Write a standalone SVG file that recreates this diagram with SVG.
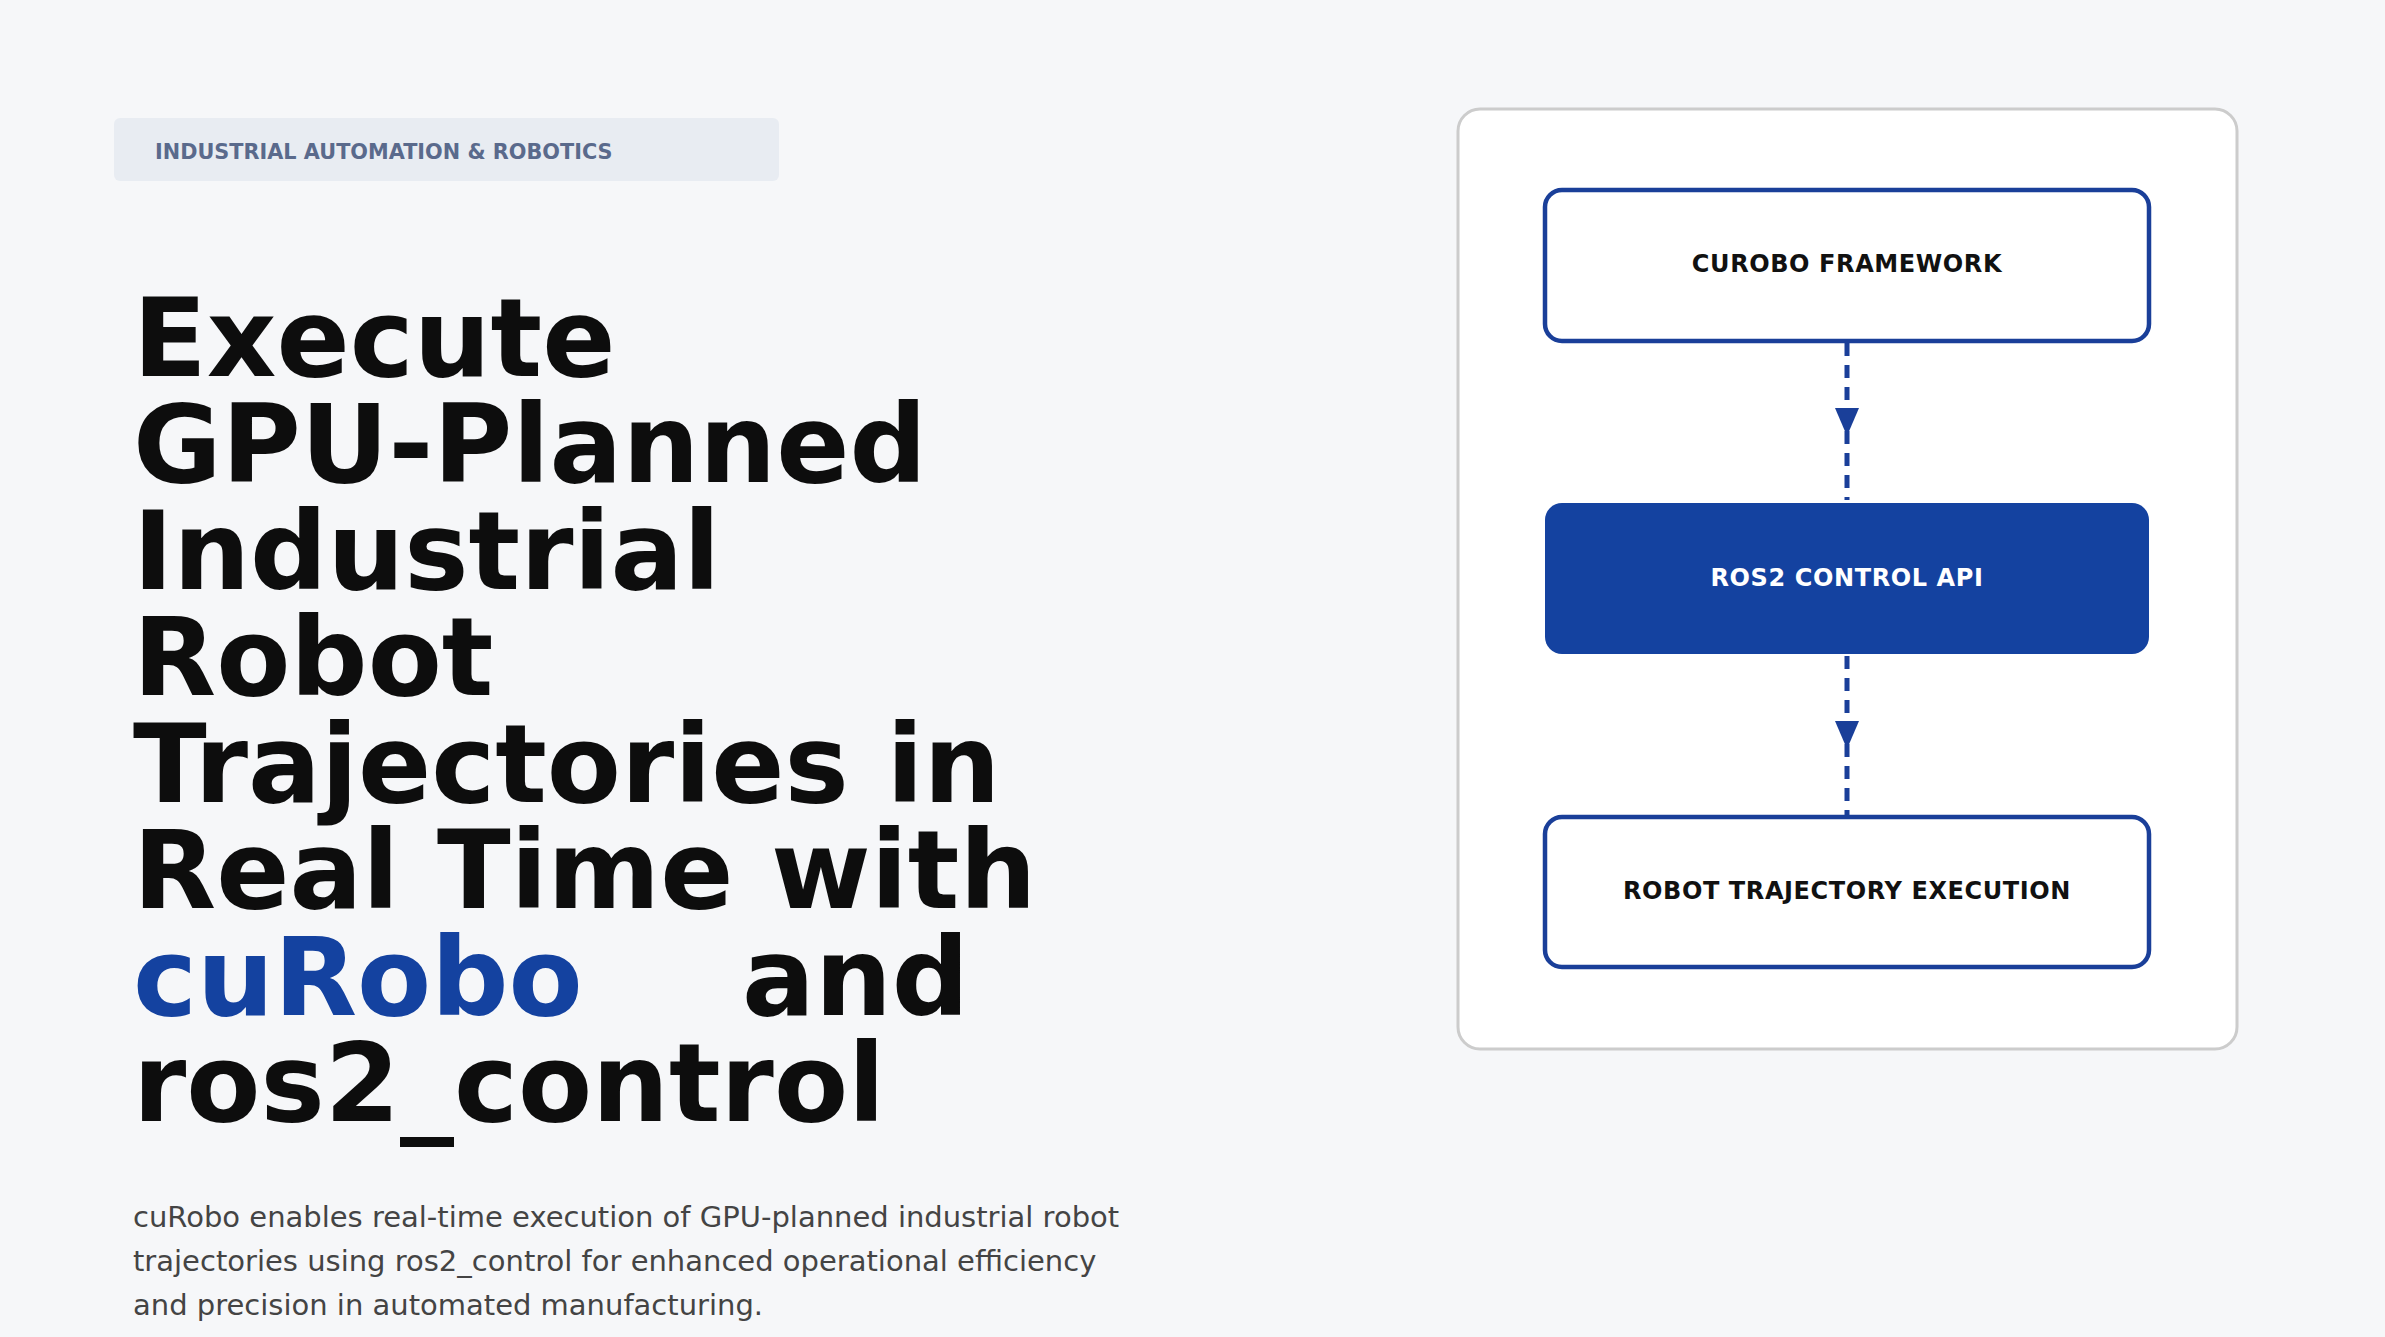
<svg xmlns="http://www.w3.org/2000/svg" width="2385" height="1337" viewBox="0 0 2385 1337">
<style>
.t{font-family:"DejaVu Sans",sans-serif;font-weight:bold;font-size:108px;fill:#0d0d0d}
.hl{fill:#1442a0}
.p{font-family:"DejaVu Sans",sans-serif;font-size:29px;fill:#444}
.lbl{font-family:"DejaVu Sans",sans-serif;font-weight:bold;font-size:24px;letter-spacing:0.6px;text-anchor:middle;dominant-baseline:central}
.box{fill:#fff;stroke:#1a3f99;stroke-width:4.5}
.conn{stroke:#1a3f99;stroke-width:5;stroke-dasharray:13 9;fill:none}
</style>
<rect width="2385" height="1337" fill="#f6f7f9"/>
<g id="tag"><rect x="114" y="118" width="665" height="63" rx="6" fill="#e8ecf2"/>
<text x="155" y="159" font-family="DejaVu Sans,sans-serif" font-weight="bold" font-size="20.8" fill="#5a6a8c">INDUSTRIAL AUTOMATION &amp; ROBOTICS</text></g>
<g id="title">
<text class="t" x="133" y="376">Execute</text>
<text class="t" x="133" y="482">GPU-Planned</text>
<text class="t" x="133" y="589">Industrial</text>
<text class="t" x="133" y="695">Robot</text>
<text class="t" x="133" y="802">Trajectories in</text>
<text class="t" x="133" y="908">Real Time with</text>
<text class="t hl" x="133" y="1015">cuRobo</text>
<text class="t" x="742" y="1015">and</text>
<text class="t" x="133" y="1121">ros2_control</text>
</g>
<g id="desc">
<text class="p" x="133" y="1227">cuRobo enables real-time execution of GPU-planned industrial robot</text>
<text class="p" x="133" y="1271">trajectories using ros2_control for enhanced operational efficiency</text>
<text class="p" x="133" y="1315">and precision in automated manufacturing.</text>
</g>
<g id="panel"><rect x="1458" y="109" width="779" height="940" rx="22" fill="#fff" stroke="#ccc" stroke-width="3"/></g>
<g id="connectors">
<line class="conn" x1="1847" y1="343" x2="1847" y2="500"/>
<path d="M1835,408 L1859,408 L1847,436 Z" fill="#1a3f99"/>
<line class="conn" x1="1847" y1="656" x2="1847" y2="815"/>
<path d="M1835,721 L1859,721 L1847,749 Z" fill="#1a3f99"/>
</g>
<g id="n1"><rect class="box" x="1545" y="190" width="604" height="151" rx="17"/><text class="lbl" x="1847" y="264" fill="#111">CUROBO FRAMEWORK</text></g>
<g id="n2"><rect x="1545" y="503" width="604" height="151" rx="17" fill="#1442a0"/><text class="lbl" x="1847" y="578" fill="#fff">ROS2 CONTROL API</text></g>
<g id="n3"><rect class="box" x="1545" y="817" width="604" height="150" rx="17"/><text class="lbl" x="1847" y="891" fill="#111">ROBOT TRAJECTORY EXECUTION</text></g>
</svg>
